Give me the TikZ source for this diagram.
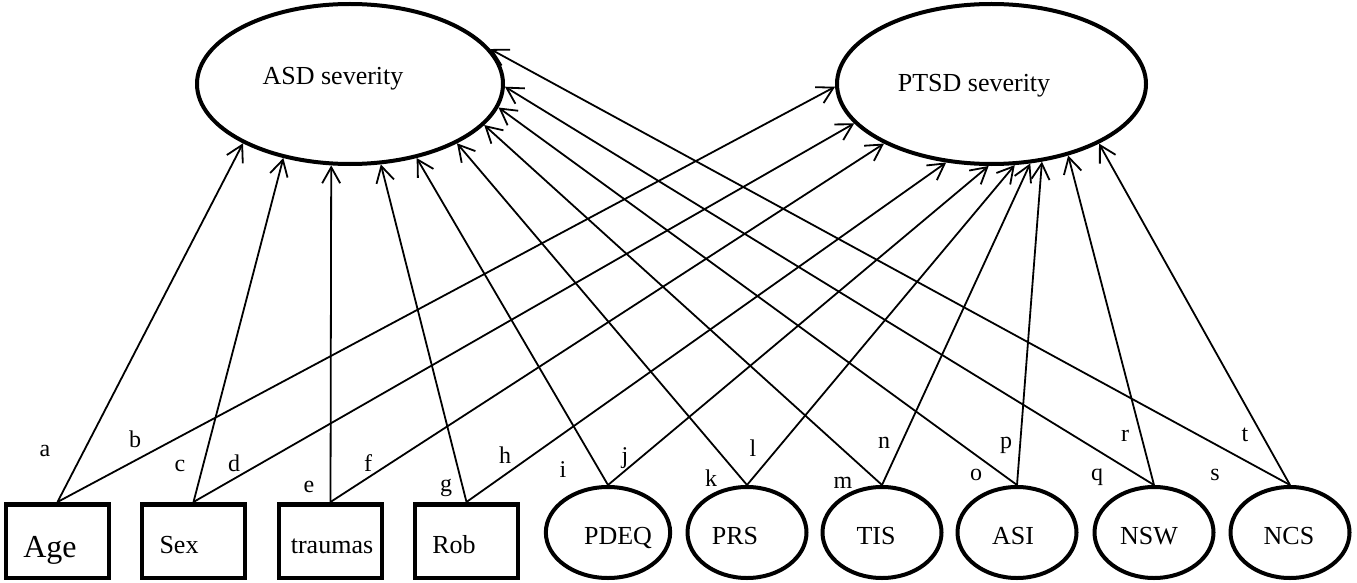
\documentclass[tikz,border=0pt]{standalone}
\usepackage{fontspec}
\setmainfont{Liberation Serif}
\usetikzlibrary{arrows.meta,shapes.geometric}
\begin{document}
\begin{tikzpicture}[x=1pt,y=-1pt,
  conn/.style={line width=1.8pt,-{Straight Barb[length=16pt,width=18pt]}},
  bigell/.style={ellipse,draw,line width=4pt,minimum height=160pt,inner sep=0pt,font=\fontsize{26}{30}\selectfont},
  smell/.style={ellipse,draw,line width=4pt,minimum width=119pt,minimum height=91pt,inner sep=0pt,text height=24pt,text depth=0pt,font=\fontsize{26}{30}\selectfont},
  obsbox/.style={rectangle,draw,line width=4.5pt,minimum width=103pt,minimum height=73.5pt,inner sep=0pt,text height=24pt,text depth=0pt,font=\fontsize{26}{30}\selectfont},
  lbl/.style={anchor=base,inner sep=0pt,font=\fontsize{24}{28}\selectfont}]
\useasboundingbox (0,0) rectangle (1357,583);
% latent variables
\node[bigell,minimum width=306pt,text height=6pt,text depth=4pt] (ASD) at (350,84) {ASD severity\hspace*{34pt}};
\node[bigell,minimum width=309pt,text height=16pt,text depth=0pt] (PTSD) at (991.5,84) {PTSD severity\hspace*{35pt}};
% observed boxes
\node[obsbox,text height=32pt,font=\fontsize{32}{36}\selectfont] (Age) at (57.5,541) {Age\hspace*{15pt}};
\node[obsbox] (Sex) at (193.5,541) {Sex\hspace*{29pt}};
\node[obsbox] (traumas) at (330.5,541) {\hspace*{3pt}traumas};
\node[obsbox] (Rob) at (466.5,541) {Rob\hspace*{25pt}};
% small ellipses
\node[smell] (PDEQ) at (608,532.5) {\hspace*{20pt}PDEQ};
\node[smell] (PRS) at (747,532.5) {PRS\hspace*{24pt}};
\node[smell] (TIS) at (882,532.5) {TIS\hspace*{12pt}};
\node[smell] (ASI) at (1017,532.5) {ASI\hspace*{8pt}};
\node[smell] (NSW) at (1154,532.5) {NSW\hspace*{10pt}};
\node[smell] (NCS) at (1290,532.5) {NCS\hspace*{2pt}};
% paths to ASD
\draw[conn] (Age.north) -- (ASD.209);
\draw[conn] (Sex.north) -- (ASD.228);
\draw[conn] (traumas.north) -- (ASD.257);
\draw[conn] (Rob.north) -- (ASD.291);
\draw[conn] (PDEQ.north) -- (ASD.312);
\draw[conn] (PRS.north) -- (ASD.331);
\draw[conn] (TIS.north) -- (ASD.343);
\draw[conn] (ASI.north) -- (ASD.351);
\draw[conn] (NSW.north) -- (ASD.359);
\draw[conn] (NCS.north) -- (ASD.14);
% paths to PTSD
\draw[conn] (Age.north) -- (PTSD.181);
\draw[conn] (Sex.north) -- (PTSD.196);
\draw[conn] (traumas.north) -- (PTSD.209);
\draw[conn] (Rob.north) -- (PTSD.240);
\draw[conn] (PDEQ.north) -- (PTSD.268);
\draw[conn] (PRS.north) -- (PTSD.286.5);
\draw[conn] (TIS.north) -- (PTSD.296);
\draw[conn] (ASI.north) -- (PTSD.303);
\draw[conn] (NSW.north) -- (PTSD.317);
\draw[conn] (NCS.north) -- (PTSD.331);
% path labels
\node[lbl] (la) at (45,456) {a};
\node[lbl] (lb) at (135,447) {b};
\node[lbl] (lc) at (180,471) {c};
\node[lbl] (ld) at (234,471) {d};
\node[lbl] (le) at (309,492) {e};
\node[lbl] (lf) at (368,471) {f};
\node[lbl] (lg) at (446,491) {g};
\node[lbl] (lh) at (505,463) {h};
\node[lbl] (li) at (563,477) {i};
\node[lbl] (lj) at (625,463) {j};
\node[lbl] (lk) at (711,486) {k};
\node[lbl] (ll) at (753,456) {l};
\node[lbl] (lm) at (843,488) {m};
\node[lbl] (ln) at (884,448) {n};
\node[lbl] (lo) at (976,480) {o};
\node[lbl] (lp) at (1006,448) {p};
\node[lbl] (lq) at (1097,480) {q};
\node[lbl] (lr) at (1125,441) {r};
\node[lbl] (ls) at (1215,480) {s};
\node[lbl] (lt) at (1245,441) {t};
\end{tikzpicture}
\end{document}
